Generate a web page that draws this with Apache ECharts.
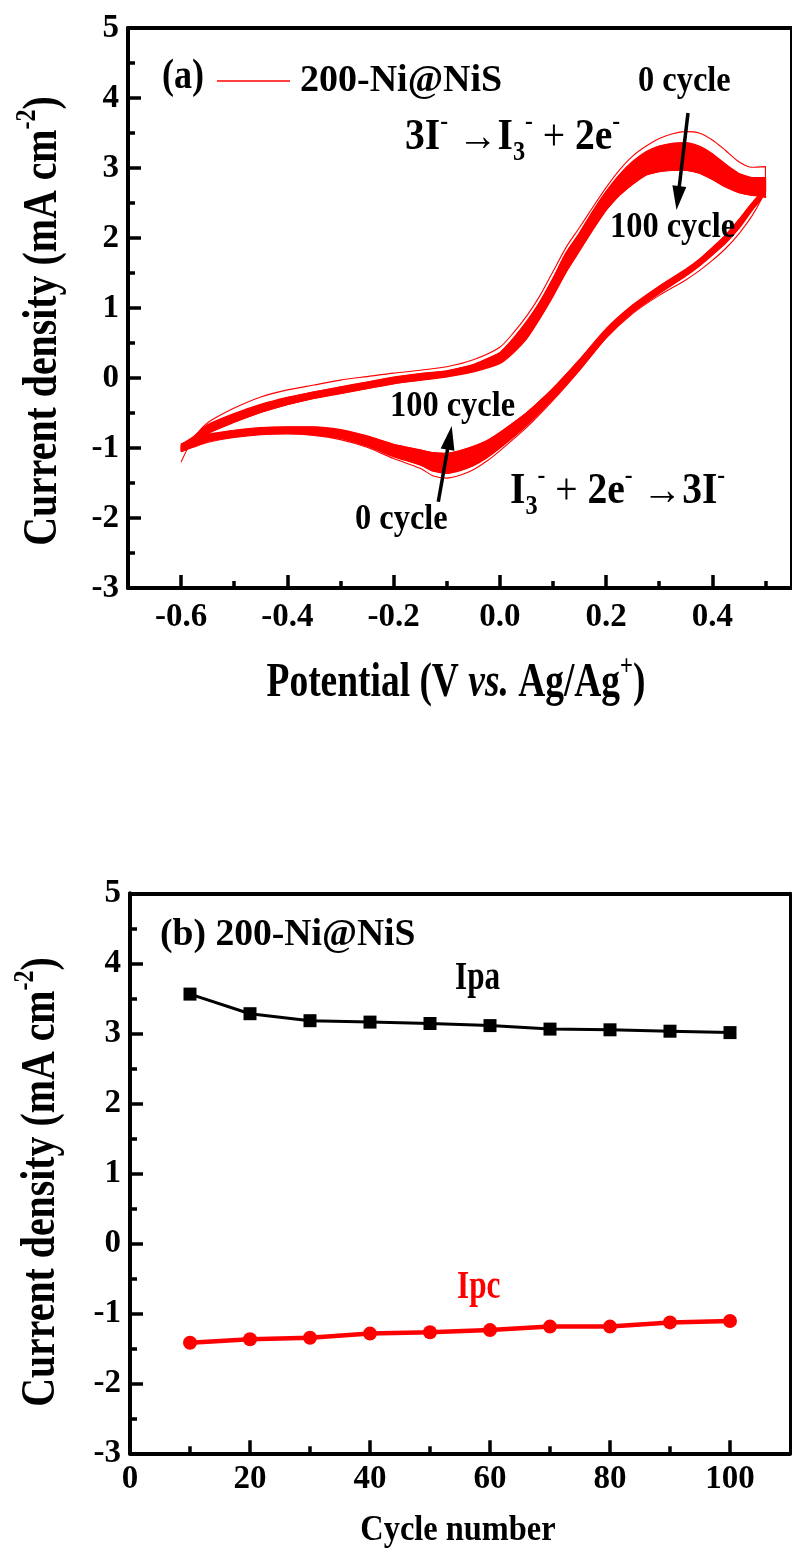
<!DOCTYPE html>
<html><head><meta charset="utf-8">
<script src="https://cdn.jsdelivr.net/npm/echarts@6/dist/echarts.min.js"></script>
<style>html,body{margin:0;padding:0;background:#fff;} #c{width:792px;height:1550px;}</style>
</head><body><div id="c"></div>
<script>
const FONT = '"Liberation Serif", "Times New Roman", serif';

// ---------------- Panel (a): cyclic voltammograms ----------------
// anodic (forward) scan potentials, V vs Ag/Ag+
const potAnodic = [-0.6,-0.58,-0.55,-0.5,-0.45,-0.4,-0.35,-0.3,-0.25,-0.2,-0.15,-0.1,-0.05,0,0.025,0.05,0.075,0.1,0.125,0.15,0.175,0.2,0.225,0.25,0.275,0.3,0.325,0.35,0.375,0.4,0.425,0.45,0.475,0.5];
// current density (mA cm-2), 0 cycle (outer thin trace)
const c0Anodic   = [-1.20,-0.90,-0.64,-0.43,-0.27,-0.17,-0.10,-0.03,0.02,0.07,0.11,0.16,0.26,0.44,0.64,0.88,1.17,1.52,1.87,2.15,2.44,2.72,2.97,3.17,3.31,3.42,3.49,3.52,3.50,3.40,3.25,3.09,3.01,3.02];
// first cycle of the dense band
const c1Anodic   = [-0.95,-0.86,-0.67,-0.51,-0.38,-0.28,-0.20,-0.13,-0.06,0.01,0.06,0.10,0.19,0.36,0.56,0.80,1.08,1.42,1.79,2.07,2.38,2.66,2.90,3.09,3.23,3.31,3.35,3.36,3.31,3.20,3.05,2.92,2.86,2.86];
// 100th cycle
const c100Anodic = [-1.05,-0.96,-0.79,-0.63,-0.49,-0.38,-0.29,-0.22,-0.15,-0.08,-0.03,0.02,0.09,0.21,0.36,0.56,0.85,1.17,1.52,1.82,2.12,2.40,2.61,2.77,2.90,2.95,2.97,2.97,2.93,2.84,2.73,2.65,2.61,2.60];

// cathodic (reverse) scan potentials
const potCathodic = [0.5,0.49,0.475,0.45,0.425,0.4,0.375,0.35,0.3,0.25,0.2,0.15,0.1,0.05,0,-0.025,-0.05,-0.075,-0.1,-0.125,-0.15,-0.2,-0.25,-0.3,-0.35,-0.4,-0.45,-0.5,-0.55,-0.6];
const c0Cathodic   = [2.72,2.52,2.32,2.06,1.85,1.68,1.53,1.40,1.18,0.92,0.57,0.11,-0.32,-0.71,-1.04,-1.19,-1.31,-1.39,-1.43,-1.40,-1.29,-1.15,-0.99,-0.88,-0.82,-0.80,-0.81,-0.85,-0.92,-1.05];
const c1Cathodic   = [2.66,2.54,2.40,2.14,1.93,1.76,1.60,1.46,1.21,0.94,0.58,0.12,-0.30,-0.68,-1.00,-1.14,-1.25,-1.32,-1.36,-1.33,-1.24,-1.12,-0.97,-0.86,-0.81,-0.79,-0.80,-0.84,-0.90,-1.05];
const c100Cathodic = [2.58,2.61,2.50,2.26,2.04,1.86,1.69,1.55,1.31,1.04,0.70,0.26,-0.15,-0.50,-0.78,-0.90,-0.98,-1.04,-1.08,-1.07,-1.03,-0.95,-0.83,-0.74,-0.70,-0.70,-0.71,-0.75,-0.81,-0.95];

// ---------------- Panel (b): peak currents vs cycle ----------------
const cycles = [10,20,30,40,50,60,70,80,90,100];
const ipa = [3.56,3.28,3.18,3.16,3.14,3.11,3.06,3.05,3.03,3.01];
const ipc = [-1.42,-1.37,-1.35,-1.29,-1.27,-1.24,-1.19,-1.19,-1.13,-1.11];

// ---------------- ticks ----------------
const yTicks = [-3,-2,-1,0,1,2,3,4,5];
const yTickLabels = ['-3','-2','-1','0','1','2','3','4','5'];
const xTicksA = [-0.6,-0.4,-0.2,0,0.2,0.4];
const xTickLabelsA = ['-0.6','-0.4','-0.2','0.0','0.2','0.4'];
const xMinorTicksA = [-0.5,-0.3,-0.1,0.1,0.3,0.5];
const xTicksB = [0,20,40,60,80,100];
const xTickLabelsB = ['0','20','40','60','80','100'];
const xMinorTicksB = [10,30,50,70,90];

function loop(p1, j1, p2, j2) {
  const out = [];
  p1.forEach((p, i) => out.push([p, j1[i]]));
  p2.forEach((p, i) => out.push([p, j2[i]]));
  return out;
}
function lookup(vals, labels, v) {
  for (let i = 0; i < vals.length; i++) if (Math.abs(vals[i] - v) < 1e-6) return labels[i];
  return '';
}
const labelStyle = {color:'#000', fontFamily:FONT, fontWeight:'bold', fontSize:33};

function yMain(gi) {
  return {type:'value', gridIndex:gi, min:-3, max:5, interval:1, position:'left',
    axisLine:{show:true, onZero:false, lineStyle:{color:'#000', width:4}},
    axisTick:{show:true, inside:true, length:13, lineStyle:{color:'#000', width:3.5}},
    minorTick:{show:true, splitNumber:2, length:7, lineStyle:{color:'#000', width:3.5}},
    splitLine:{show:false},
    axisLabel:Object.assign({margin:9, formatter:v => lookup(yTicks, yTickLabels, v)}, labelStyle)};
}
function yFrame(gi, w) {
  return {type:'value', gridIndex:gi, min:-3, max:5, position:'right',
    axisLine:{show:true, onZero:false, lineStyle:{color:'#000', width:w}},
    axisTick:{show:false}, axisLabel:{show:false}, splitLine:{show:false}};
}
function xMain(gi, min, max, ticks, labels, margin) {
  return {type:'value', gridIndex:gi, min, max, position:'bottom',
    axisLine:{show:true, onZero:false, lineStyle:{color:'#000', width:4}},
    axisTick:{show:true, inside:true, length:13, customValues:ticks, lineStyle:{color:'#000', width:3.5}},
    splitLine:{show:false},
    axisLabel:Object.assign({margin, customValues:ticks, formatter:v => lookup(ticks, labels, v)}, labelStyle)};
}
function xMinor(gi, min, max, ticks) {
  return {type:'value', gridIndex:gi, min, max, position:'bottom',
    axisLine:{show:false, onZero:false},
    axisTick:{show:true, inside:true, length:7, customValues:ticks, lineStyle:{color:'#000', width:3.5}},
    axisLabel:{show:false}, splitLine:{show:false}};
}
function xFrame(gi, min, max) {
  return {type:'value', gridIndex:gi, min, max, position:'top',
    axisLine:{show:true, onZero:false, lineStyle:{color:'#000', width:4}},
    axisTick:{show:false}, axisLabel:{show:false}, splitLine:{show:false}};
}

// ---------------- annotations ----------------
function txt(x, y, text, rich, sx, o) {
  o = o || {};
  return {type:'text', x, y, scaleX:sx, scaleY:1, rotation:o.rot || 0, z:100,
    style:{text, rich, align:o.align || 'left', textAlign:o.align || 'left',
      verticalAlign:'middle', textVerticalAlign:'middle',
      fontFamily:FONT, fontWeight:'bold', fontSize:o.size || 36, fill:o.color || '#000'}};
}
function richSet(F, color) {
  color = color || '#000';
  return {
    n:{fontFamily:FONT, fontWeight:'bold', fontSize:F, lineHeight:Math.round(F*1.3), verticalAlign:'middle', fill:color},
    i:{fontFamily:FONT, fontWeight:'bold', fontStyle:'italic', fontSize:F, lineHeight:Math.round(F*1.3), verticalAlign:'middle', fill:color},
    a:{fontFamily:FONT, fontWeight:'normal', fontSize:F, lineHeight:Math.round(F*1.3), verticalAlign:'middle', fill:color},
    s:{fontFamily:FONT, fontWeight:'bold', fontSize:Math.round(F*0.6), lineHeight:Math.round(F*0.6), verticalAlign:'top', fill:color},
    u:{fontFamily:FONT, fontWeight:'bold', fontSize:Math.round(F*0.62), lineHeight:Math.round(F*0.32), verticalAlign:'bottom', fill:color}
  };
}
function arrow(x1, y1, x2, y2, len, wid) {
  const dx = x2 - x1, dy = y2 - y1, L = Math.hypot(dx, dy);
  const ux = dx / L, uy = dy / L, nx = -uy, ny = ux;
  const bx = x2 - ux * len, by = y2 - uy * len;
  return [
    {type:'line', z:100, shape:{x1, y1, x2:bx + ux*2, y2:by + uy*2}, style:{stroke:'#000', lineWidth:3.5}},
    {type:'polygon', z:100, shape:{points:[[x2, y2], [bx + nx*wid/2, by + ny*wid/2], [bx - nx*wid/2, by - ny*wid/2]]}, style:{fill:'#000'}}
  ];
}

const graphics = [
  txt(162, 77, '(a)', null, 0.86, {size:42}),
  txt(638, 82, '0 cycle', null, 0.9, {size:36}),
  txt(610, 228, '100 cycle', null, 0.9, {size:36}),
  txt(390, 407, '100 cycle', null, 0.9, {size:36}),
  txt(355, 520, '0 cycle', null, 0.9, {size:36}),
  txt(405, 138, '{n|3I}{s|-}{a| \u2192}{n|I}{u|3}{s|-}{a| + }{n|2e}{s|-}', richSet(44), 0.9),
  txt(510, 492, '{n|I}{u|3}{s|-}{a| + }{n|2e}{s|-}{a| \u2192}{n|3I}{s|-}', richSet(44), 0.9),
  txt(456, 684, '{n|Potential (V }{i|vs.}{n| Ag/Ag}{s|+}{n|)}', richSet(48), 0.78, {align:'center'}),
  txt(44, 321, '{n|Current density (mA cm}{s|-2}{n|)}', richSet(48), 0.83, {align:'center', rot:Math.PI/2}),
  txt(160, 935, '(b) 200-Ni@NiS', null, 0.99, {size:38}),
  txt(455, 979, 'Ipa', null, 0.78, {size:40}),
  txt(457, 1288, 'Ipc', null, 0.78, {size:40, color:'#ff0000'}),
  txt(458, 1531, 'Cycle number', null, 0.9, {size:36, align:'center'}),
  txt(42, 1182, '{n|Current density (mA cm}{s|-2}{n|)}', richSet(48), 0.83, {align:'center', rot:Math.PI/2})
].concat(arrow(688, 113, 676.5, 210, 24, 14), arrow(438.3, 501.7, 451.7, 426, 24, 14));

const chart = echarts.init(document.getElementById('c'), null, {renderer:'canvas'});
chart.setOption({
  animation:false,
  backgroundColor:'#fff',
  grid:[
    {left:128, top:28, width:665.5, height:560},
    {left:130, top:893.3, width:660, height:560}
  ],
  xAxis:[
    xMain(0, -0.7, 0.55, xTicksA, xTickLabelsA, 13),
    xMinor(0, -0.7, 0.55, xMinorTicksA),
    xFrame(0, -0.7, 0.55),
    xMain(1, 0, 110, xTicksB, xTickLabelsB, 10),
    xMinor(1, 0, 110, xMinorTicksB),
    xFrame(1, 0, 110)
  ],
  yAxis:[yMain(0), yFrame(0, 4), yMain(1), yFrame(1, 3)],
  legend:{
    show:true, left:212, top:57, itemWidth:73, itemHeight:1.4, selectedMode:false,
    data:[{name:'200-Ni@NiS', icon:'rect', itemStyle:{color:'#ff0000'}}],
    textStyle:{color:'#000', fontFamily:FONT, fontWeight:'bold', fontSize:38, padding:[0,0,0,5]}
  },
  graphic:graphics,
  series:[
    {type:'custom', name:'band', xAxisIndex:0, yAxisIndex:0, clip:true, z:2, silent:true,
      data:[[-0.6, -1, 0], [0.5, 2.6, 1]],
      renderItem:function(params, api){
        const b = api.value(2);
        const pot = b === 0 ? potAnodic : potCathodic;
        const A = b === 0 ? c1Anodic : c1Cathodic;
        const Bv = b === 0 ? c100Anodic : c100Cathodic;
        const pts = [];
        for (let i = 0; i < pot.length; i++) pts.push(api.coord([pot[i], A[i]]));
        for (let i = pot.length - 1; i >= 0; i--) pts.push(api.coord([pot[i], Bv[i]]));
        return {type:'polygon', shape:{points:pts}, style:{fill:'#ff0000', stroke:'#ff0000', lineWidth:1}};
      }},
    {type:'line', name:'200-Ni@NiS', xAxisIndex:0, yAxisIndex:0, data:loop(potAnodic, c0Anodic, potCathodic, c0Cathodic),
      symbol:'none', smooth:0.25, lineStyle:{color:'#ff0000', width:1.1}, itemStyle:{color:'#ff0000'}, z:3},
    {type:'line', name:'cycle 1', xAxisIndex:0, yAxisIndex:0, data:loop(potAnodic, c1Anodic, potCathodic, c1Cathodic),
      symbol:'none', smooth:0.25, lineStyle:{color:'#ff0000', width:1.6}, z:3},
    {type:'line', name:'cycle 100', xAxisIndex:0, yAxisIndex:0, data:loop(potAnodic, c100Anodic, potCathodic, c100Cathodic),
      symbol:'none', smooth:0.25, lineStyle:{color:'#ff0000', width:1.6}, z:3},
    {type:'line', name:'Ipa', xAxisIndex:3, yAxisIndex:2, data:cycles.map((c, i) => [c, ipa[i]]),
      symbol:'rect', symbolSize:13, lineStyle:{color:'#000', width:3}, itemStyle:{color:'#000'}, z:3},
    {type:'line', name:'Ipc', xAxisIndex:3, yAxisIndex:2, data:cycles.map((c, i) => [c, ipc[i]]),
      symbol:'circle', symbolSize:14, lineStyle:{color:'#ff0000', width:4.5}, itemStyle:{color:'#ff0000'}, z:3}
  ]
});
</script></body></html>
